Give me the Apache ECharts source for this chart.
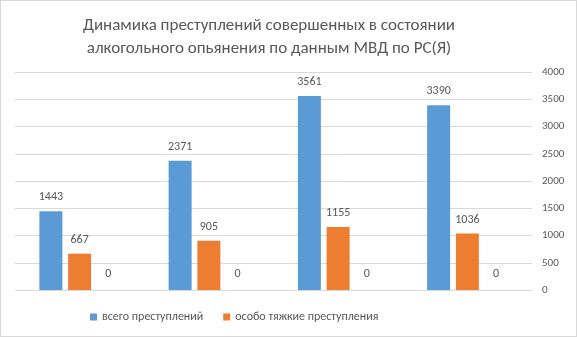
<!DOCTYPE html>
<html><head><meta charset="utf-8">
<script src="https://cdn.jsdelivr.net/npm/echarts@6/dist/echarts.min.js"></script>
<style>html,body{margin:0;padding:0;background:#fff}#c{width:575px;height:335px;border:1px solid #d9d9d9}</style>
</head><body><div id="c"></div>
<script>
const categories = ['1', '2', '3', '4'];
const seriesNames = ['всего преступлений', 'особо тяжкие преступления', 'ряд 3'];
const total = [1443, 2371, 3561, 3390];
const grave = [667, 905, 1155, 1036];
const third = [0, 0, 0, 0];
const yTicks = {min: 0, max: 4000, interval: 500};

const FONT = 'Calibri, Carlito, Lato, sans-serif';
const chart = echarts.init(document.getElementById('c'));
const lbl = {show: true, position: 'top', color: '#595959', fontSize: 12, fontFamily: FONT, distance: 8};
chart.setOption({
  animation: false,
  title: {
    text: 'Динамика преступлений совершенных в состоянии\nалкогольного опьянения по данным МВД по РС(Я)',
    left: 263, textAlign: 'center', top: 8,
    textStyle: {color: '#595959', fontSize: 17, fontWeight: 'normal', lineHeight: 23, fontFamily: FONT}
  },
  legend: {
    data: [seriesNames[0], seriesNames[1]],
    left: 84, bottom: 8, itemWidth: 7, itemHeight: 7, itemGap: 20,
    icon: 'rect',
    textStyle: {color: '#595959', fontSize: 12, fontFamily: FONT}
  },
  grid: {left: 14, right: 44, top: 71, bottom: 46},
  xAxis: {
    type: 'category', data: categories,
    axisLine: {show: false}, axisTick: {show: false}, axisLabel: {show: false}
  },
  yAxis: {
    type: 'value', position: 'right', min: yTicks.min, max: yTicks.max, interval: yTicks.interval,
    axisLine: {show: false}, axisTick: {show: false},
    axisLabel: {color: '#595959', fontSize: 11, margin: 10, fontFamily: FONT, formatter: v => String(v)},
    splitLine: {lineStyle: {color: '#d9d9d9', width: 1}}
  },
  series: [
    {name: seriesNames[0], type: 'bar', data: total, barWidth: 23, barGap: '25%', barCategoryGap: '38%',
     itemStyle: {color: '#5b9bd5'}, label: lbl},
    {name: seriesNames[1], type: 'bar', data: grave, barWidth: 23,
     itemStyle: {color: '#ed7d31'}, label: lbl},
    {name: seriesNames[2], type: 'bar', data: third, barWidth: 23,
     itemStyle: {color: '#a5a5a5'}, label: Object.assign({}, lbl, {distance: 10})}
  ]
});
</script></body></html>
